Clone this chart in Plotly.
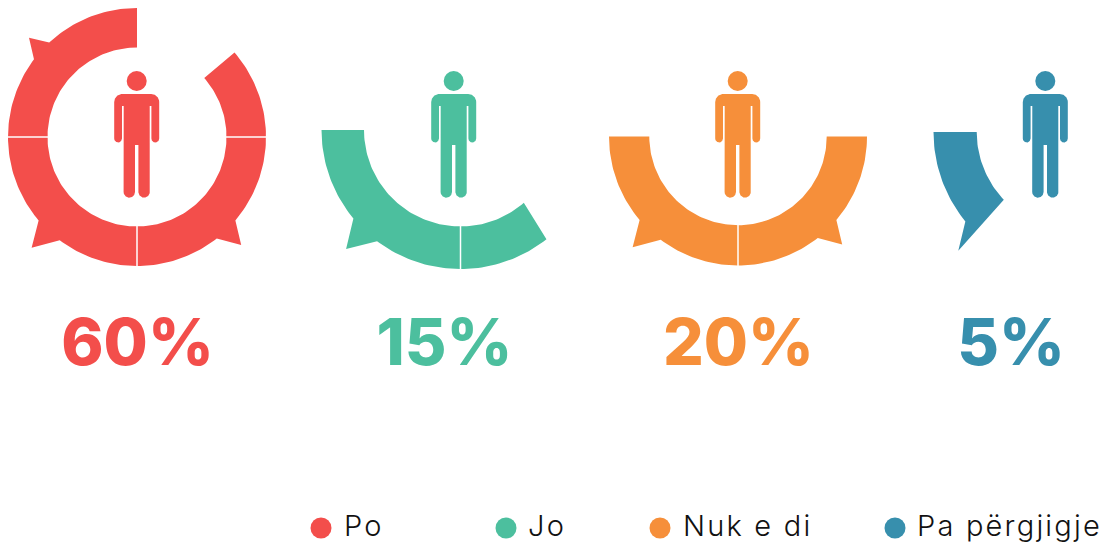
import numpy as np
import plotly.graph_objects as go

# ---- chart values ----
categories = ["Po", "Jo", "Nuk e di", "Pa përgjigje"]
shares = [60, 15, 20, 5]
colors = ["#F34E4B", "#4CBF9E", "#F68F3A", "#378FAD"]

# ring geometry (clock angles in degrees, 0 = up, clockwise)
ring_cx = [137.0, 460.5, 738.0, 1075.0]
ring_cy = [137.0, 130.0, 136.5, 132.0]
ring_outer = [129.0, 139.0, 129.0, 141.5]
ring_inner = [89.5, 96.5, 88.7, 98.3]
arc_start = [360.0, 270.0, 270.0, 270.0]
arc_end_outer = [49.1, 141.8, 90.0, 230.8]
arc_end_inner = [48.7, 139.0, 90.0, 226.4]
spikes = [
    [(317.1, 312.6, 307.0, 146.7), (229.7, 223.6, 216.8, 152.8), (141.8, 136.0, 130.3, 150.0)],
    [(230.4, 223.9, 216.9, 165.0)],
    [(229.7, 223.6, 216.8, 152.8), (141.8, 136.0, 130.3, 150.0)],
    [],
]
end_tips = [None, None, None, (224.5, 166.5)]
separators = [[270, 180, 90], [180], [180], []]

person_cx = [136.7, 453.7, 737.7, 1045.3]
share_x = [137.5, 444.5, 738.5, 1011.0]
share_y = 349
legend_x = [321, 506, 660, 895]
legend_text_x = [344, 528, 683, 917]
legend_y = 528
legend_text_y = 529


def arc(cx, cy, r, a0, a1):
    n = max(2, int(abs(a1 - a0) / 1.5) + 2)
    a = np.radians(np.linspace(a0, a1, n))
    return list(cx + r * np.sin(a)), list(cy - r * np.cos(a))


def ring_outline(i):
    cx, cy, R, r = ring_cx[i], ring_cy[i], ring_outer[i], ring_inner[i]
    xs, ys = [], []
    cur = arc_start[i]
    for a, tip, b, tr in spikes[i]:
        x, y = arc(cx, cy, R, cur, a)
        xs += x; ys += y
        x, y = arc(cx, cy, tr, tip, tip)
        xs += x[:1]; ys += y[:1]
        cur = b
    x, y = arc(cx, cy, R, cur, arc_end_outer[i])
    xs += x; ys += y
    if end_tips[i]:
        x, y = arc(cx, cy, end_tips[i][1], end_tips[i][0], end_tips[i][0])
        xs += x[:1]; ys += y[:1]
    x, y = arc(cx, cy, r, arc_end_inner[i], arc_start[i])
    xs += x; ys += y
    xs.append(xs[0]); ys.append(ys[0])
    return xs, ys


def person_outline(cx):
    """Pictogram body: arms and legs hanging from rounded shoulders."""
    xs, ys = [], []

    def add(c, y, r, a0, a1):
        x, yy = arc(cx + c, y, r, a0, a1)
        xs.extend(x); ys.extend(yy)

    def pt(dx, y):
        xs.append(cx + dx); ys.append(y)

    add(14.5, 102, 8, 0, 90)
    pt(22.5, 139); add(18.6, 138.6, 3.9, 90, 270); pt(14.7, 106)
    pt(13, 106)
    pt(13, 192); add(7.4, 192, 5.7, 90, 270); pt(1.7, 145)
    pt(-1.7, 145)
    pt(-1.7, 192); add(-7.4, 192, 5.7, 90, 270); pt(-13, 106)
    pt(-14.7, 106)
    pt(-14.7, 138.6); add(-18.6, 138.6, 3.9, 90, 270); pt(-22.5, 102)
    add(-14.5, 102, 8, 270, 360)
    xs.append(xs[0]); ys.append(ys[0])
    return xs, ys


fig = go.Figure()

for i, cat in enumerate(categories):
    x, y = ring_outline(i)
    fig.add_trace(go.Scatter(x=x, y=y, mode="lines", fill="toself", fillcolor=colors[i],
                             line=dict(width=0, color=colors[i]), hoverinfo="skip", name=cat))
    for s in separators[i]:
        sx, sy = arc(ring_cx[i], ring_cy[i], ring_outer[i] + 1, s, s)
        ex, ey = arc(ring_cx[i], ring_cy[i], ring_inner[i] - 1, s, s)
        fig.add_trace(go.Scatter(x=[sx[0], ex[0]], y=[sy[0], ey[0]], mode="lines",
                                 line=dict(width=1.5, color="#FFFFFF"), hoverinfo="skip"))
    x, y = person_outline(person_cx[i])
    fig.add_trace(go.Scatter(x=x, y=y, mode="lines", fill="toself", fillcolor=colors[i],
                             line=dict(width=0, color=colors[i]), hoverinfo="skip"))
    fig.add_trace(go.Scatter(x=[person_cx[i]], y=[81], mode="markers",
                             marker=dict(size=20, color=colors[i]), hoverinfo="skip"))
    fig.add_trace(go.Scatter(x=[share_x[i]], y=[share_y], mode="text", text=[f"{shares[i]}%"],
                             textposition="middle center",
                             textfont=dict(family="Inter", size=64, color=colors[i], weight=800),
                             hoverinfo="skip"))
    fig.add_trace(go.Scatter(x=[legend_x[i]], y=[legend_y], mode="markers",
                             marker=dict(size=21, color=colors[i]), hoverinfo="skip"))
    fig.add_trace(go.Scatter(x=[legend_text_x[i]], y=[legend_text_y], mode="text", text=[cat],
                             textposition="middle right",
                             textfont=dict(family="Inter", size=29, color="#111111", weight=300),
                             hoverinfo="skip"))

fig.update_layout(
    width=1108, height=545, autosize=False, showlegend=False,
    margin=dict(l=0, r=0, t=0, b=0),
    paper_bgcolor="#FFFFFF", plot_bgcolor="#FFFFFF",
    xaxis=dict(range=[0, 1108], visible=False, fixedrange=True),
    yaxis=dict(range=[545, 0], visible=False, fixedrange=True),
)
fig.write_html("out.html", config={"displayModeBar": False},
               post_script=("document.body.style.margin='0';"
                            "document.documentElement.style.overflow='hidden';"
                            "document.querySelectorAll('.textpoint text').forEach(function(t){"
                            "if(t.textContent.indexOf('%')<0){"
                            "t.style.letterSpacing='2.2px';}});"))
